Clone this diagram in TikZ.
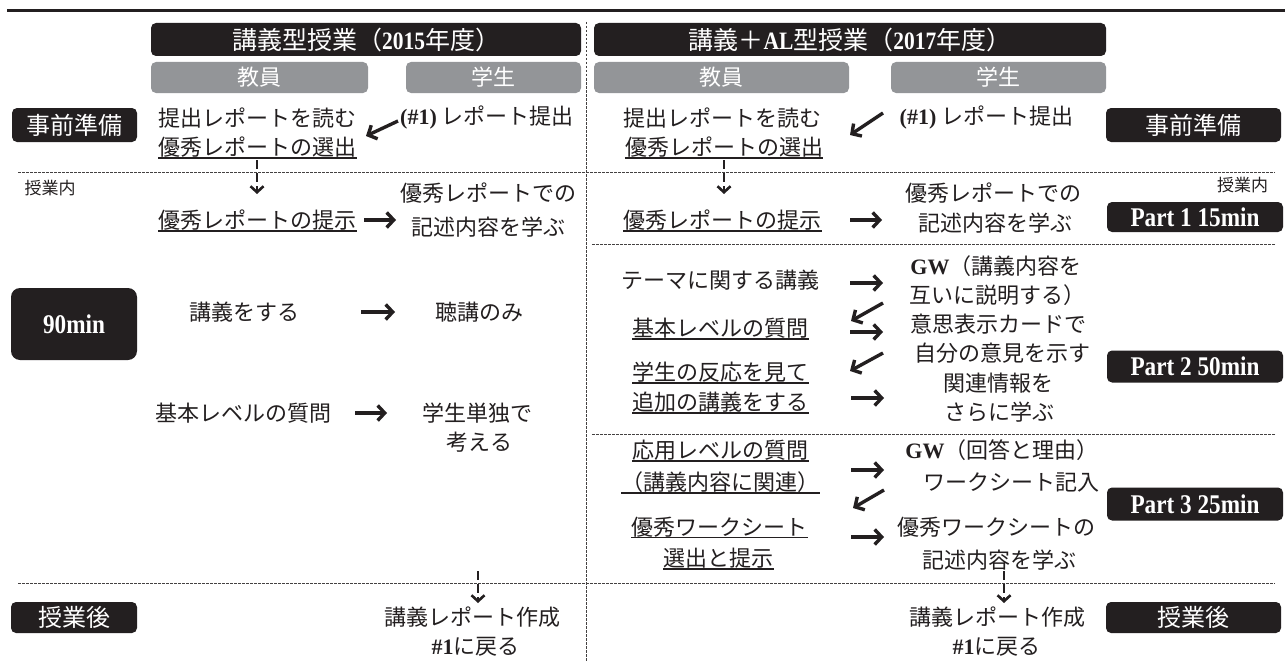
\documentclass[tikz,border=0pt]{standalone}
\usepackage{fontspec}
\setmainfont{Liberation Serif}
\newfontfamily\jp{Noto Sans CJK JP}
\newfontfamily\lat{Liberation Serif}
\newfontfamily\latc{Liberation Serif}[FakeStretch=0.86]
\usetikzlibrary{arrows.meta}
\definecolor{ink}{HTML}{231F20}
\definecolor{gbox}{HTML}{939598}
\tikzset{
  blk/.style={fill=ink, rounded corners=5pt, text=white, inner sep=0pt, font=\jp\fontsize{24}{28}\selectfont},
  gry/.style={fill=gbox, rounded corners=5pt, text=white, inner sep=0pt, font=\jp\fontsize{22}{26}\selectfont, minimum height=31},
  txt/.style={inner sep=0pt, text=ink, font=\jp\fontsize{22}{26}\selectfont},
  small/.style={inner sep=0pt, text=ink, font=\jp\fontsize{17}{20}\selectfont},
  uline/.style={draw=ink, line width=1.4pt},
  sep/.style={draw=ink!85, line width=0.9pt, dash pattern=on 2.5pt off 1.5pt},
  arr/.style={draw=ink, line width=3.4pt, -{Straight Barb[length=7pt,width=15pt]}},
  darr/.style={draw=ink, line width=2.6pt, dash pattern=on 9pt off 4pt, -{Straight Barb[length=6pt,width=13pt]}},
}
\newcommand\ulnode[3]{\node[txt] (#1) at (#2) {#3};
  \draw[uline] ([yshift=-2.5pt]#1.base west) -- ([yshift=-2.5pt]#1.base east);}
\newcommand\B[1]{{\lat\bfseries #1}}
\newcommand\C[1]{{\latc\bfseries\fontsize{27}{30}\selectfont #1}}
\begin{document}
\begin{tikzpicture}[x=1pt,y=-1pt]
\useasboundingbox (0,0) rectangle (1285,661);
\fill[white] (0,0) rectangle (1285,661);
% top rule
\draw[ink, line width=3pt] (7,11) -- (1285,11);
% separators
\draw[sep] (586,22) -- (586,661);
\draw[sep] (18,172) -- (1275,172);
\draw[sep] (592,244) -- (1275,244);
\draw[sep] (592,434) -- (1275,434);
\draw[sep] (18,583) -- (1275,583);
% headers
\node[blk, minimum width=430, minimum height=33, font=\jp\fontsize{25}{28}\selectfont] (hdrL) at (366,39.5) {講義型授業（{\latc\bfseries 2015}年度）};
\node[blk, minimum width=512, minimum height=33, font=\jp\fontsize{25}{28}\selectfont] (hdrR) at (850,39.5) {講義＋{\latc\bfseries AL}型授業（{\latc\bfseries 2017}年度）};
\node[gry, minimum width=217] (tL) at (259.5,77.5) {教員};
\node[gry, minimum width=175] (sL) at (493.5,77.5) {学生};
\node[gry, minimum width=255] (tR) at (721.5,77.5) {教員};
\node[gry, minimum width=215] (sR) at (998.5,77.5) {学生};
% phase boxes
\node[blk, minimum width=125, minimum height=34] (prepL) at (74.5,125) {事前準備};
\node[blk, minimum width=175, minimum height=34] (prepR) at (1193.5,125) {事前準備};
\node[blk, minimum width=126, minimum height=72, rounded corners=9pt] (m90) at (74,324) {\C{90min}};
\node[blk, minimum width=176, minimum height=30] (p1) at (1195,217) {\C{Part 1 15min}};
\node[blk, minimum width=176, minimum height=32] (p2) at (1195,366.5) {\C{Part 2 50min}};
\node[blk, minimum width=176, minimum height=33] (p3) at (1195,504) {\C{Part 3 25min}};
\node[blk, minimum width=126, minimum height=31] (aftL) at (74,617.5) {授業後};
\node[blk, minimum width=175, minimum height=31] (aftR) at (1193.5,617.5) {授業後};
\node[small] (inL) at (50,188) {授業内};
\node[small] (inR) at (1242.5,185) {授業内};
% ---------- left column ----------
\node[txt] (L1a) at (257.5,118) {提出レポートを読む};
\ulnode{L1b}{257.5,147}{優秀レポートの選出}
\node[txt] (L1s) at (487,118) {\B{(\#1)} レポート提出};
\ulnode{L2a}{257.5,220}{優秀レポートの提示}
\node[txt] (L2s1) at (488,193) {優秀レポートでの};
\node[txt] (L2s2) at (488.5,227) {記述内容を学ぶ};
\node[txt] (L3a) at (244.5,312) {講義をする};
\node[txt] (L3s) at (479,312) {聴講のみ};
\node[txt] (L4a) at (243,413) {基本レベルの質問};
\node[txt] (L4s1) at (477.5,413) {学生単独で};
\node[txt] (L4s2) at (479.5,442) {考える};
\node[txt] (L5s1) at (472,617) {講義レポート作成};
\node[txt] (L5s2) at (475.5,647) {\B{\#1}に戻る};
% ---------- right column ----------
\node[txt] (R1a) at (722.5,118) {提出レポートを読む};
\ulnode{R1b}{724,147}{優秀レポートの選出}
\node[txt] (R1s) at (986.5,118) {\B{(\#1)} レポート提出};
\ulnode{R2a}{722.5,220}{優秀レポートの提示}
\node[txt] (R2s1) at (993.5,193) {優秀レポートでの};
\node[txt] (R2s2) at (995.5,223) {記述内容を学ぶ};
\node[txt] (R3a) at (720.5,280) {テーマに関する講義};
\ulnode{R3b}{720.5,328}{基本レベルの質問}
\ulnode{R3c}{720.5,372}{学生の反応を見て}
\ulnode{R3d}{720.5,402}{追加の講義をする}
\node[txt] (R3s1) at (996,266) {\B{GW}（講義内容を};
\node[txt] (R3s2) at (997,295) {互いに説明する）};
\node[txt] (R3s3) at (998,324) {意思表示カードで};
\node[txt] (R3s4) at (1002,353) {自分の意見を示す};
\node[txt] (R3s5) at (998.5,383) {関連情報を};
\node[txt] (R3s6) at (999.5,412) {さらに学ぶ};
\ulnode{R4a}{720.5,450}{応用レベルの質問}
\ulnode{R4b}{720.5,482}{（講義内容に関連）}
\ulnode{R4c}{719.5,527}{優秀ワークシート}
\ulnode{R4d}{718.5,558}{選出と提示}
\node[txt] (R4s1) at (1002,450) {\B{GW}（回答と理由）};
\node[txt] (R4s2) at (1011,482) {ワークシート記入};
\node[txt] (R4s3) at (996.5,527) {優秀ワークシートの};
\node[txt] (R4s4) at (999,560) {記述内容を学ぶ};
\node[txt] (R5s1) at (997.5,617) {講義レポート作成};
\node[txt] (R5s2) at (996.5,647) {\B{\#1}に戻る};
% ---------- arrow end points ----------
\coordinate (a1s) at (398,121); \coordinate (a1e) at (366,136);
\coordinate (a2s) at (883,113); \coordinate (a2e) at (850,135);
\coordinate (d1s) at (257,160); \coordinate (d1e) at (257,194);
\coordinate (d2s) at (724,160); \coordinate (d2e) at (724,194);
\coordinate (d3s) at (478,571); \coordinate (d3e) at (478,603);
\coordinate (d4s) at (1004,571); \coordinate (d4e) at (1004,603);
\coordinate (l2) at (364,220); \coordinate (l2e) at (396,220);
\coordinate (l3) at (361,312); \coordinate (l3e) at (395,312);
\coordinate (l4) at (355,413); \coordinate (l4e) at (387,413);
\coordinate (r2) at (850,220); \coordinate (r2e) at (882,220);
\coordinate (r3) at (850,283); \coordinate (r3e) at (883,283);
\coordinate (r4) at (883,303); \coordinate (r4e) at (851,321);
\coordinate (r5) at (850,332); \coordinate (r5e) at (883,332);
\coordinate (r6) at (883,353); \coordinate (r6e) at (850,371);
\coordinate (r7) at (851,398); \coordinate (r7e) at (884,398);
\coordinate (r8) at (851,470); \coordinate (r8e) at (884,470);
\coordinate (r9) at (884,490); \coordinate (r9e) at (853,508);
\coordinate (r10) at (851,537); \coordinate (r10e) at (884,537);
% arrows
\draw[arr] (a1s) -- (a1e);
\draw[arr] (a2s) -- (a2e);
\draw[darr] (d1s) -- (d1e);
\draw[darr] (d2s) -- (d2e);
\draw[darr] (d3s) -- (d3e);
\draw[darr] (d4s) -- (d4e);
\foreach \p in {l2,l3,l4,r2,r3,r4,r5,r6,r7,r8,r9,r10} {\draw[arr] (\p) -- (\p e);}
\end{tikzpicture}
\end{document}
